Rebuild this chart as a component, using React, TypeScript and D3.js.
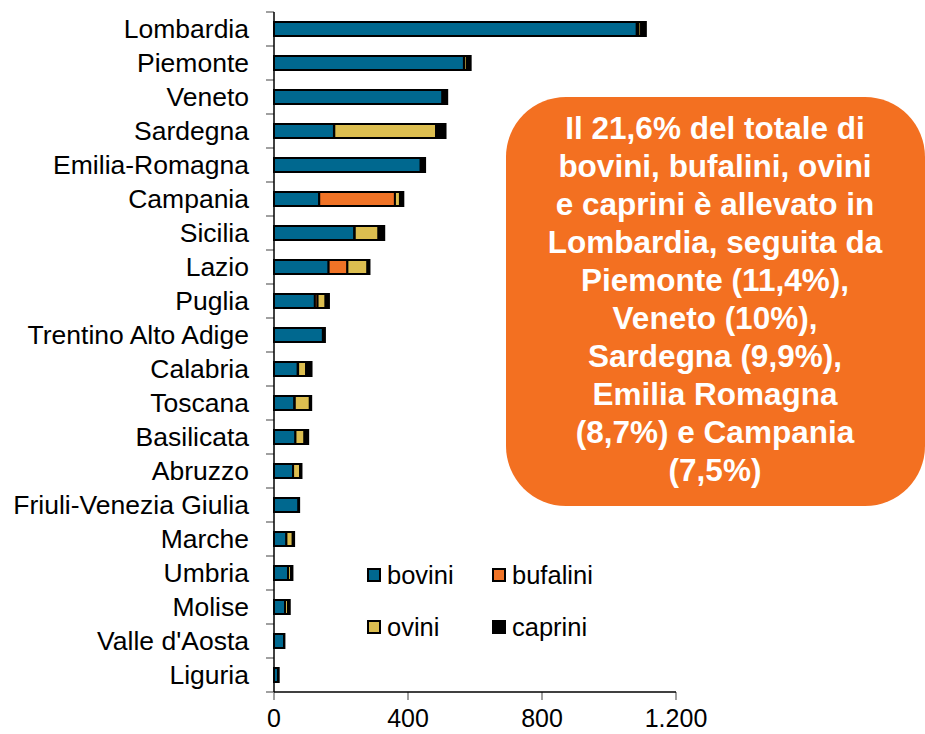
import React from "react";
import * as d3 from "d3";

const regions = [
  "Lombardia", "Piemonte", "Veneto", "Sardegna", "Emilia-Romagna", "Campania",
  "Sicilia", "Lazio", "Puglia", "Trentino Alto Adige", "Calabria", "Toscana",
  "Basilicata", "Abruzzo", "Friuli-Venezia Giulia", "Marche", "Umbria", "Molise",
  "Valle d'Aosta", "Liguria",
];
const bovini = [1083, 567, 503, 179, 438, 135, 240, 163, 122, 146, 71, 61, 64, 57, 73, 37, 42, 33, 30, 12];
const bufalini = [5, 1, 1, 1, 1, 226, 1, 56, 8, 0, 1, 1, 0, 0, 0, 0, 0, 0, 0, 0];
const ovini = [8, 8, 4, 304, 4, 15, 71, 60, 24, 2, 24, 45, 27, 21, 0, 19, 9, 9, 0, 0];
const caprini = [14, 11, 9, 28, 8, 10, 17, 6, 10, 4, 16, 4, 11, 4, 2, 4, 4, 5, 1, 2];

const seriesKeys = ["bovini", "bufalini", "ovini", "caprini"];
const seriesColors = ["#00688F", "#F07326", "#DCBE50", "#000000"];
const xTicks = [0, 400, 800, 1200];
const xTickLabels = ["0", "400", "800", "1.200"];

const calloutLines = [
  "Il 21,6% del totale di",
  "bovini, bufalini, ovini",
  "e caprini è allevato in",
  "Lombardia, seguita da",
  "Piemonte (11,4%),",
  "Veneto (10%),",
  "Sardegna (9,9%),",
  "Emilia Romagna",
  "(8,7%) e Campania",
  "(7,5%)",
];

const FONT = "'Liberation Sans', Arial, sans-serif";

export default function App() {
  const width = 925;
  const height = 734;
  const x = d3.scaleLinear().domain([0, 1200]).range([274, 676]);
  const y = d3.scaleBand<string>().domain(regions).range([12, 692]).padding(0);
  const barH = 14;

  const table = regions.map((r, i) => ({
    region: r,
    bovini: bovini[i],
    bufalini: bufalini[i],
    ovini: ovini[i],
    caprini: caprini[i],
  }));
  const stacked = d3.stack<any>().keys(seriesKeys)(table);

  const legendItems = [
    { key: "bovini", color: seriesColors[0], x: 368, y: 569 },
    { key: "bufalini", color: seriesColors[1], x: 493, y: 569 },
    { key: "ovini", color: seriesColors[2], x: 368, y: 621 },
    { key: "caprini", color: seriesColors[3], x: 493, y: 621 },
  ];

  const bandEdges = regions.map((r) => y(r)!).concat([692]);

  return (
    <div style={{ position: "fixed", left: 0, top: 0 }}>
      <svg width={width} height={height} style={{ display: "block", background: "#fff" }}>
        {/* callout */}
        <rect x={506} y={97} width={419} height={409} rx={60} ry={60} fill="#F37021" />
        {calloutLines.map((t, i) => (
          <text
            key={i}
            x={715}
            y={139 + i * 38}
            textAnchor="middle"
            fontFamily={FONT}
            fontWeight="bold"
            fontSize={31.5}
            fill="#fff"
          >
            {t}
          </text>
        ))}

        {/* y ticks */}
        {bandEdges.map((v, i) => (
          <line key={i} x1={266} x2={274} y1={v} y2={v} stroke="#808080" strokeWidth={1.5} />
        ))}
        {/* x ticks */}
        {xTicks.map((t) => (
          <line key={t} x1={x(t)} x2={x(t)} y1={692} y2={700} stroke="#808080" strokeWidth={1.5} />
        ))}

        {/* bars */}
        {stacked.map((s, si) => (
          <g key={s.key}>
            {s.map((d, i) =>
              d[1] - d[0] > 0 ? (
                <rect
                  key={i}
                  x={x(d[0])}
                  y={y(regions[i])! + y.bandwidth() / 2 - barH / 2}
                  width={Math.max(0, x(d[1]) - x(d[0]))}
                  height={barH}
                  fill={seriesColors[si]}
                  stroke="#000"
                  strokeWidth={2}
                />
              ) : null
            )}
          </g>
        ))}

        {/* axes */}
        <line x1={274} x2={274} y1={12} y2={692} stroke="#000" strokeWidth={1.5} />
        <line x1={274} x2={676} y1={692} y2={692} stroke="#000" strokeWidth={1.5} />

        {/* category labels */}
        {regions.map((r) => (
          <text
            key={r}
            x={249}
            y={y(r)! + y.bandwidth() / 2 + 9}
            textAnchor="end"
            fontFamily={FONT}
            fontSize={26.5}
            fill="#000"
          >
            {r}
          </text>
        ))}

        {/* x tick labels */}
        {xTicks.map((t, i) => (
          <text
            key={t}
            x={x(t)}
            y={727}
            textAnchor="middle"
            fontFamily={FONT}
            fontSize={25}
            fill="#000"
          >
            {xTickLabels[i]}
          </text>
        ))}

        {/* legend */}
        {legendItems.map((l) => (
          <g key={l.key}>
            <rect x={l.x} y={l.y} width={12} height={12} fill={l.color} stroke="#000" strokeWidth={2} />
            <text x={l.x + 19} y={l.y + 15} fontFamily={FONT} fontSize={25.5} fill="#000">
              {l.key}
            </text>
          </g>
        ))}
      </svg>
    </div>
  );
}
